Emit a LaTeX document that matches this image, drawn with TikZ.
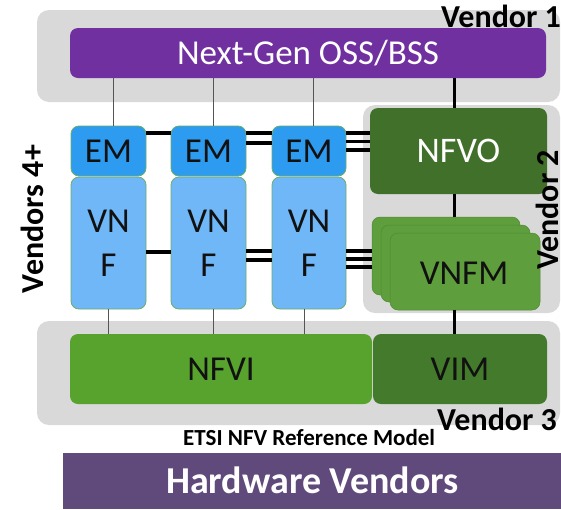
\documentclass[tikz,border=0pt]{standalone}
\usepackage{fontspec}
\setmainfont{Carlito}
\definecolor{bandgray}{HTML}{D9D9D9}
\definecolor{osspurple}{HTML}{7030A0}
\definecolor{emblue}{HTML}{2D9BF0}
\definecolor{vnfblue}{HTML}{6FB7F7}
\definecolor{edgegreen}{HTML}{6AAE6A}
\definecolor{nfvogreen}{HTML}{41702A}
\definecolor{vnfmgreen}{HTML}{5F9E3D}
\definecolor{vnfmedge}{HTML}{4F8A32}
\definecolor{nfvigreen}{HTML}{58A22E}
\definecolor{vimgreen}{HTML}{437A2B}
\definecolor{hwpurple}{HTML}{604A7B}
\definecolor{thingray}{HTML}{555555}
\definecolor{labelblack}{HTML}{111111}
\begin{document}
\begin{tikzpicture}[x=1pt,y=-1pt,
  band/.style={fill=bandgray,rounded corners=12pt,inner sep=0pt},
  blk/.style={rounded corners=8pt,inner sep=0pt,text=labelblack,font=\fontsize{35}{42}\selectfont},
  embox/.style={blk,fill=emblue,draw=edgegreen,line width=0.8pt,font=\fontsize{35}{42}\selectfont},
  vnfbox/.style={blk,fill=vnfblue,draw=edgegreen,line width=0.8pt,align=center,font=\fontsize{35}{44}\selectfont},
  vnfmcard/.style={blk,fill=vnfmgreen,draw=vnfmedge,line width=0.5pt},
  thinl/.style={draw=thingray,line width=1pt},
  thickl/.style={draw=black,line width=3pt},
  singlel/.style={draw=black,line width=4.5pt},
  multil/.style={draw=black,line width=3.3pt},
  vlabel/.style={font=\bfseries\fontsize{32}{36}\selectfont,inner sep=0pt}
]
\useasboundingbox (0,0) rectangle (561,509);
% bands
\node[band,minimum width=523pt,minimum height=92pt] (b1) at (298.5,56) {};
\node[band,minimum width=197pt,minimum height=208pt] (b2) at (461.5,209) {};
\node[band,minimum width=523pt,minimum height=104pt] (b3) at (298.5,373) {};
% blocks
\node[blk,fill=osspurple,text=white,minimum width=476pt,minimum height=50pt] (oss) at (308,53) {Next-Gen OSS/BSS};
\node[embox,minimum width=75pt,minimum height=50pt] (em1) at (108.5,151) {EM};
\node[embox,minimum width=75pt,minimum height=50pt] (em2) at (208.5,151) {EM};
\node[embox,minimum width=74pt,minimum height=50pt] (em3) at (309,151) {EM};
\node[vnfbox,minimum width=75pt,minimum height=132pt] (vnf1) at (108.5,243) {VN\\F};
\node[vnfbox,minimum width=75pt,minimum height=132pt] (vnf2) at (208.5,243) {VN\\F};
\node[vnfbox,minimum width=74pt,minimum height=132pt] (vnf3) at (309,243) {VN\\F};
\node[blk,fill=nfvogreen,text=white,minimum width=177pt,minimum height=86pt,font=\fontsize{36}{42}\selectfont] (nfvo) at (458.5,151) {NFVO};
\node[vnfmcard,minimum width=148pt,minimum height=78pt] (vnfmA) at (446,256) {};
\node[vnfmcard,minimum width=149pt,minimum height=77pt] (vnfmB) at (455.5,263.5) {};
\node[vnfmcard,minimum width=150pt,minimum height=77pt] (vnfm) at (465,271.5) {};
\node[text=labelblack,font=\fontsize{35}{42}\selectfont] (vnfmtext) at (464,273) {VNFM};
\node[blk,fill=nfvigreen,minimum width=302pt,minimum height=70pt] (nfvi) at (221,369) {NFVI};
\node[blk,fill=vimgreen,minimum width=174pt,minimum height=70pt] (vim) at (460,369) {VIM};
\node[fill=hwpurple,inner sep=0pt,minimum width=498pt,minimum height=56pt] (hw) at (312,481) {};
\node[text=white,font=\bfseries\fontsize{38}{44}\selectfont,inner sep=0pt,anchor=base] (hwtext) at (312.5,493) {Hardware Vendors};
% vertical thin connectors
\draw[thinl] (113,0 |- oss.south) coordinate (t1) -- (t1 |- em1.north);
\draw[thinl] (213,0 |- oss.south) coordinate (t2) -- (t2 |- em2.north);
\draw[thinl] (313,0 |- oss.south) coordinate (t3) -- (t3 |- em3.north);
\draw[thinl] (108,0 |- vnf1.south) coordinate (u1) -- (u1 |- nfvi.north);
\draw[thinl] (213,0 |- vnf2.south) coordinate (u2) -- (u2 |- nfvi.north);
\draw[thinl] (304,0 |- vnf3.south) coordinate (u3) -- (u3 |- nfvi.north);
% vertical thick connectors
\draw[thickl] (454,0 |- oss.south) coordinate (k1) -- (k1 |- nfvo.north);
\draw[thickl] (454,0 |- nfvo.south) coordinate (k2) -- (k2 |- vnfmA.north);
\draw[thickl] (454,0 |- vnfm.south) coordinate (k3) -- (k3 |- vim.north);
% horizontal connectors EM row
\draw[singlel] (em1.east |- 0,133) -- (em2.west |- 0,133);
\foreach \yy in {133,143} \draw[multil] (em2.east |- 0,\yy) -- (em3.west |- 0,\yy);
\foreach \yy in {133,141.5,150} \draw[multil] (em3.east |- 0,\yy) -- (nfvo.west |- 0,\yy);
% horizontal connectors VNF row
\draw[singlel] (vnf1.east |- 0,252) -- (vnf2.west |- 0,252);
\foreach \yy in {251,260} \draw[multil] (vnf2.east |- 0,\yy) -- (vnf3.west |- 0,\yy);
\foreach \yy in {251,259,267} \draw[multil] (vnf3.east |- 0,\yy) -- (vnfmA.west |- 0,\yy);
% labels
\node[vlabel,anchor=base west] (v1) at (441,27) {Vendor 1};
\node[vlabel,rotate=90,anchor=base] (v2) at (558,210) {Vendor 2};
\node[vlabel,anchor=base west] (v3) at (437,430) {Vendor 3};
\node[vlabel,rotate=90,anchor=base] (v4) at (43,219) {Vendors 4+};
\node[font=\bfseries\fontsize{23}{27}\selectfont,inner sep=0pt,anchor=base west] (etsi) at (183,445) {ETSI NFV Reference Model};
\end{tikzpicture}
\end{document}
